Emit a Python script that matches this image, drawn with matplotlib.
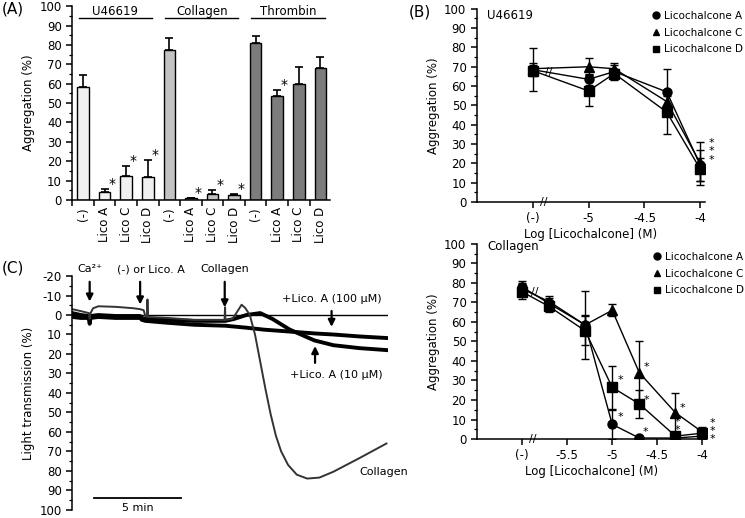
import matplotlib.pyplot as plt
from matplotlib.lines import Line2D
from matplotlib.ticker import MultipleLocator

plt.rcParams["font.family"] = ["DejaVu Sans"]
plt.rcParams["font.size"] = 8
plt.rcParams["axes.unicode_minus"] = False
plt.rcParams["axes.linewidth"] = 1.1
plt.rcParams["xtick.major.width"] = 1.1
plt.rcParams["ytick.major.width"] = 1.1
plt.rcParams["ytick.minor.width"] = 0.9

# ---- (A) bar chart ----
A_GROUPS = ["U46619", "Collagen", "Thrombin"]
A_LABELS = ["(-)", "Lico A", "Lico C", "Lico D"] * 3
A_MEANS = [58.3, 4.1, 12.6, 12.1, 77.6, 0.8, 3.2, 2.3, 81.2, 53.6, 59.6, 68.2]
A_ERRS = [6.4, 1.4, 4.9, 8.5, 6.0, 0.4, 1.8, 0.7, 3.3, 3.3, 8.8, 5.6]
A_STARS = [1, 2, 3, 5, 6, 7, 9]
A_COLORS = ["#f0f0f0", "#c2c2c2", "#7c7c7c"]

# ---- (B) U46619 ----
B1_X = [-5.5, -5.0, -4.77, -4.3, -4.0]
B1_A = [68.5, 63.5, 67.5, 57.0, 19.0]
B1_A_ERR = [11.0, 3.0, 4.5, 12.0, 8.0]
B1_C = [69.0, 70.0, 69.0, 52.0, 20.0]
B1_C_ERR = [3.0, 4.5, 2.0, 3.0, 11.0]
B1_D = [68.0, 57.5, 66.5, 46.5, 17.0]
B1_D_ERR = [3.0, 8.0, 2.0, 11.5, 6.0]
B1_TICKS = [-5.5, -5.0, -4.5, -4.0]
B1_TICKLABELS = ["(-)", "-5", "-4.5", "-4"]
B1_STARS_Y = [30.8, 26.2, 21.5]

# ---- (B) Collagen ----
B2_X = [-6.0, -5.7, -5.3, -5.0, -4.7, -4.3, -4.0]
B2_A = [78.0, 69.5, 58.5, 7.5, 0.5, 0.5, 1.5]
B2_A_ERR = [3.0, 3.0, 5.0, 7.5, 0.5, 0.5, 1.0]
B2_C = [77.0, 70.5, 58.5, 66.0, 34.0, 13.5, 3.5]
B2_C_ERR = [3.0, 3.0, 17.5, 3.0, 16.5, 10.0, 2.5]
B2_D = [75.5, 68.0, 55.5, 26.5, 18.0, 1.5, 3.0]
B2_D_ERR = [3.5, 3.0, 7.5, 11.0, 7.0, 1.0, 2.5]
B2_TICKS = [-6.0, -5.5, -5.0, -4.5, -4.0]
B2_TICKLABELS = ["(-)", "-5.5", "-5", "-4.5", "-4"]
B2_STARS = [(-4.91, 30.3), (-4.91, 11.4), (-4.62, 36.8), (-4.62, 20.0),
            (-4.63, 3.7), (-4.22, 16.0), (-4.28, 8.9), (-4.28, 4.6),
            (-3.89, 8.4), (-3.89, 4.2), (-3.89, 0.0)]

LEGEND_LABELS = ["Licochalcone A", "Licochalcone C", "Licochalcone D"]
MARKERS = ["o", "^", "s"]

# ---- (C) aggregation traces (time in min, light transmission in %) ----
C_T_CTRL = [0, 0.5, 0.95, 1.0, 1.05, 1.2, 1.5, 2.5, 3.5, 3.9, 4.1, 4.2,
            4.3, 4.32, 4.35, 5.5, 7.0, 8.75, 8.78, 8.8, 9.2, 9.5, 9.73,
            9.95, 10.2, 10.5, 10.8, 11.1, 11.4, 11.7, 12.0, 12.4, 12.9,
            13.5, 14.2, 15.0, 16.5, 18.05]
C_Y_CTRL = [-3, -2, -1, 2, -1, -3.5, -4.5, -4.2, -3.5, -3, -2.5, 0.5,
            1.0, -8, 1, 1.5, 2.5, 2.5, -4, 2.5, 2, -2, -5.3,
            -3.5, 0, 10, 24, 38, 51, 62, 70, 77, 82,
            84, 83.5, 80.5, 73.5, 66]
C_T_10 = [0, 0.5, 0.95, 1.0, 1.05, 1.5, 2.5, 3.9, 4.0, 4.2, 5.5, 7.0,
          8.8, 9.3, 10.0, 10.8, 11.5, 12.5, 13.9, 15.0, 16.5, 18.05]
C_Y_10 = [-1, 0, 0.5, 3, 0.5, 0, 0.5, 0.5, 1.5, 2, 2.5, 3,
          3, 2, 0, -1, 2, 7.5, 13, 15.5, 17, 18]
C_T_100 = [0, 0.5, 0.95, 1.0, 1.05, 1.5, 2.5, 3.9, 4.0, 4.2, 5.5, 7.0,
           8.8, 10.0, 11.0, 12.5, 14.0, 15.0, 16.5, 18.05]
C_Y_100 = [1, 1.5, 1.5, 4.5, 1.5, 1, 1.5, 1.5, 2.5, 3, 4, 5,
           5.5, 6.5, 7.5, 8.5, 9.5, 10, 11, 11.8]

fig = plt.figure(figsize=(7.45, 5.18), dpi=100)


def clean(ax):
    ax.spines["top"].set_visible(False)
    ax.spines["right"].set_visible(False)
    ax.tick_params(which="both", direction="out")
    ax.tick_params(which="major", length=4)
    ax.tick_params(which="minor", length=2)


# ---------------- (A) ----------------
axA = fig.add_axes([0.097, 0.614, 0.346, 0.374])
clean(axA)
xs = list(range(len(A_MEANS)))
colors = [A_COLORS[i // 4] for i in xs]
axA.bar(xs, A_MEANS, width=0.54, color=colors, edgecolor="black", linewidth=1)
axA.errorbar(xs, A_MEANS, yerr=[[0] * len(xs), A_ERRS], fmt="none",
             ecolor="black", elinewidth=1.2, capsize=3, capthick=1.2)
for i in A_STARS:
    axA.text(i + 0.33, A_MEANS[i] + A_ERRS[i] + 2.5, "*", ha="center",
             va="center", fontsize=10)
axA.set_xlim(-0.5, 11.45)
axA.set_ylim(0, 100)
axA.set_xticks([i + 0.5 for i in range(-1, 11)])
axA.set_xticklabels([])
axA.set_xticks(xs, minor=True)
axA.set_xticklabels(A_LABELS, minor=True, rotation=90, fontsize=8.5)
axA.tick_params(axis="x", which="minor", length=0, pad=5)
axA.yaxis.set_major_locator(MultipleLocator(10))
axA.yaxis.set_minor_locator(MultipleLocator(5))
axA.tick_params(axis="y", labelsize=8.5)
axA.set_ylabel("Aggregation (%)", fontsize=8.5, labelpad=3)
for g, name in enumerate(A_GROUPS):
    axA.plot([g * 4 - 0.2, g * 4 + 3.2], [93.8, 93.8], color="black",
             lw=1, clip_on=False)
    axA.text(g * 4 + 1.5, 97.3, name, ha="center", va="center", fontsize=8.5)
fig.text(0.003, 0.982, "(A)", fontsize=11, va="center")


# ---------------- (B) ----------------
def dose_panel(rect, xvals, series, errs, xlim, ticks, ticklabels, title,
               title_y, brk, leg_anchor):
    ax = fig.add_axes(rect)
    clean(ax)
    for y, e, m in zip(series, errs, MARKERS):
        ax.errorbar(xvals, y, yerr=e, color="black", marker=m, ms=6.5,
                    lw=1, elinewidth=1, capsize=3, capthick=1)
    ax.set_xlim(*xlim)
    ax.set_ylim(0, 100)
    ax.set_xticks(ticks)
    ax.set_xticklabels(ticklabels, fontsize=8.5)
    ax.yaxis.set_major_locator(MultipleLocator(10))
    ax.yaxis.set_minor_locator(MultipleLocator(5))
    ax.tick_params(axis="y", labelsize=8.5)
    ax.set_ylabel("Aggregation (%)", fontsize=8.5, labelpad=3)
    ax.set_xlabel("Log [Licochalcone] (M)", fontsize=8.5, labelpad=2)
    ax.text(0.045, title_y, title, transform=ax.transAxes, fontsize=8.5,
            va="center")
    for bx, by in brk:
        ax.text(bx, by, "//", ha="center", va="center", fontsize=8,
                clip_on=False)
    handles = [Line2D([], [], color="black", marker=m, ls="none", ms=5)
               for m in MARKERS]
    ax.legend(handles, LEGEND_LABELS, loc="upper left", frameon=False,
              fontsize=7.5, handlelength=0.8, handletextpad=0.35,
              labelspacing=0.65, borderpad=0, borderaxespad=0,
              bbox_to_anchor=leg_anchor)
    return ax


axB1 = dose_panel([0.640, 0.610, 0.306, 0.373], B1_X, [B1_A, B1_C, B1_D],
                  [B1_A_ERR, B1_C_ERR, B1_D_ERR], (-6.0, -3.96),
                  B1_TICKS, B1_TICKLABELS, "U46619", 0.965,
                  [(-5.4, 0), (-5.36, 67.5)], (0.767, 0.99))
for sy in B1_STARS_Y:
    axB1.text(-3.9, sy, "*", ha="center", va="center", fontsize=8,
              clip_on=False)
fig.text(0.548, 0.977, "(B)", fontsize=11, va="center")

axB2 = dose_panel([0.640, 0.1525, 0.309, 0.3765], B2_X, [B2_A, B2_C, B2_D],
                  [B2_A_ERR, B2_C_ERR, B2_D_ERR], (-6.5, -3.95),
                  B2_TICKS, B2_TICKLABELS, "Collagen", 0.985,
                  [(-5.88, 0), (-5.86, 75.5)], (0.764, 0.96))
for sx, sy in B2_STARS:
    axB2.text(sx, sy, "*", ha="center", va="center", fontsize=8,
              clip_on=False)

# ---------------- (C) ----------------
axC = fig.add_axes([0.097, 0.016, 0.424, 0.451])
clean(axC)
axC.spines["bottom"].set_visible(False)
axC.set_xticks([])
axC.set_xlim(0, 18.15)
axC.set_ylim(100, -20)
axC.yaxis.set_major_locator(MultipleLocator(10))
axC.yaxis.set_minor_locator(MultipleLocator(5))
axC.tick_params(axis="y", labelsize=8.5)
axC.set_ylabel("Light transmission (%)", fontsize=8.5, labelpad=3)
axC.axhline(0, color="black", lw=1)
axC.plot(C_T_100, C_Y_100, color="black", lw=2.8, solid_joinstyle="round")
axC.plot(C_T_10, C_Y_10, color="black", lw=2.8, solid_joinstyle="round")
axC.plot(C_T_CTRL, C_Y_CTRL, color="#333333", lw=1.4,
         solid_joinstyle="round")

arrow = dict(arrowstyle="-|>,head_width=0.25,head_length=0.5", color="black",
             lw=1.6)
axC.annotate("", xy=(1.0, -5.5), xytext=(1.0, -18.5), arrowprops=arrow,
             annotation_clip=False)
axC.text(1.0, -23.5, "Ca²⁺", ha="center", va="center", fontsize=8,
         clip_on=False)
axC.annotate("", xy=(3.9, -4.0), xytext=(3.9, -18.5), arrowprops=arrow,
             annotation_clip=False)
axC.text(4.5, -23.5, "(-) or Lico. A", ha="center", va="center",
         fontsize=8, clip_on=False)
axC.annotate("", xy=(8.76, -2.5), xytext=(8.76, -18.5), arrowprops=arrow,
             annotation_clip=False)
axC.text(8.76, -23.5, "Collagen", ha="center", va="center", fontsize=8,
         clip_on=False)
axC.annotate("", xy=(14.9, 7.5), xytext=(14.9, -3.5), arrowprops=arrow)
axC.text(14.9, -8, "+Lico. A (100 µM)", ha="center", va="center",
         fontsize=8)
axC.annotate("", xy=(13.95, 14.5), xytext=(13.95, 26), arrowprops=arrow)
axC.text(15.2, 30.8, "+Lico. A (10 µM)", ha="center", va="center",
         fontsize=8)
axC.text(16.5, 80.5, "Collagen", ha="left", va="center", fontsize=8)
axC.plot([1.25, 6.25], [93.8, 93.8], color="black", lw=1.3)
axC.text(3.75, 99.0, "5 min", ha="center", va="center", fontsize=8,
         clip_on=False)
fig.text(0.003, 0.482, "(C)", fontsize=11, va="center")

fig.savefig("out.png", dpi=100)
